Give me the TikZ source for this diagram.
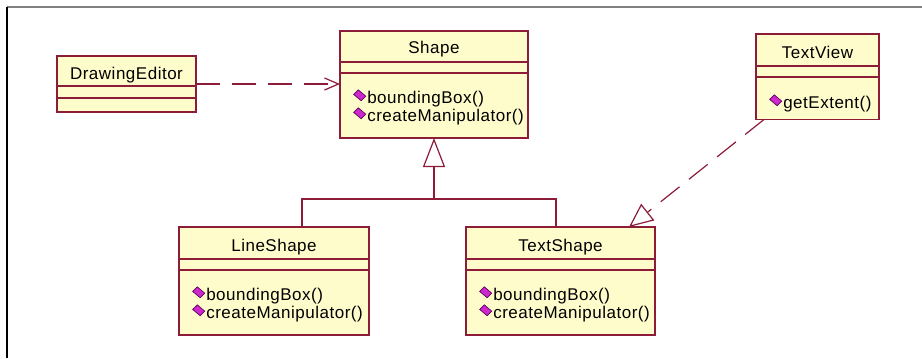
\documentclass[tikz,border=0pt]{standalone}
\usepackage{fontspec}
\setmainfont{Liberation Sans}[LetterSpace=3]
\usetikzlibrary{arrows.meta,calc,fit}
\definecolor{umlred}{RGB}{140,28,56}
\definecolor{umlfill}{RGB}{255,252,204}
\definecolor{umlmag}{RGB}{205,40,205}
\definecolor{umlmagd}{RGB}{90,0,90}
\definecolor{framegray}{RGB}{128,128,128}
\newcommand\UMLop[4]{%
  \filldraw[opicon, shift={(#2+20,#3-8)}, scale=1.15] (-5.5,-0.5) -- (-1.5,-4.5) -- (5,1) -- (1,5) -- cycle;
  \node[meth] (#1) at (#2+27,#3) {#4};
}
\begin{document}
\begin{tikzpicture}[x=0.75pt,y=-0.75pt,
  classbox/.style={draw=umlred, fill=umlfill, line width=1.1pt, inner sep=0pt, outer sep=0pt},
  sepline/.style={draw=umlred, line width=1.1pt},
  ttl/.style={anchor=base, font=\fontsize{12.75}{15}\selectfont, inner sep=0pt},
  meth/.style={anchor=base west, font=\fontsize{12.75}{15}\selectfont, inner sep=0pt},
  opicon/.style={fill=umlmag, draw=umlmagd, line width=0.5pt},
  conn/.style={draw=umlred, line width=0.9pt},
  dashconn/.style={conn, dash pattern=on 18pt off 9pt},
]
\useasboundingbox (0,0) rectangle (922,358);
\fill[white] (0,0) rectangle (922,358);
\draw[framegray, line width=1.5pt] (6.5,6.5) -- (922,6.5);
\draw[black, line width=1.5pt] (6.5,6.5) -- (6.5,358);

% DrawingEditor
\node[classbox, fit={(57,56) (196,112)}] (de) {};
\draw[sepline] ($(de.north west)+(0,30)$) -- ($(de.north east)+(0,30)$);
\draw[sepline] ($(de.north west)+(0,42)$) -- ($(de.north east)+(0,42)$);
\node[ttl] (deT) at ($(de.north)+(0,23)$) {DrawingEditor};

% Shape
\node[classbox, fit={(340,31) (528,138)}] (shape) {};
\draw[sepline] ($(shape.north west)+(0,31)$) -- ($(shape.north east)+(0,31)$);
\draw[sepline] ($(shape.north west)+(0,42)$) -- ($(shape.north east)+(0,42)$);
\node[ttl] (shapeT) at ($(shape.north)+(0,22)$) {Shape};
\UMLop{shapeM1}{340}{103}{boundingBox()}
\UMLop{shapeM2}{340}{121}{createManipulator()}

% TextView
\node[classbox, fit={(756,34) (879,119.5)}] (tv) {};
\draw[sepline] ($(tv.north west)+(0,32)$) -- ($(tv.north east)+(0,32)$);
\draw[sepline] ($(tv.north west)+(0,43)$) -- ($(tv.north east)+(0,43)$);
\node[ttl] (tvT) at ($(tv.north)+(0,24)$) {TextView};
\UMLop{tvM1}{756}{108}{getExtent()}

% LineShape
\node[classbox, fit={(179,227) (369,335)}] (ls) {};
\draw[sepline] ($(ls.north west)+(0,32)$) -- ($(ls.north east)+(0,32)$);
\draw[sepline] ($(ls.north west)+(0,43)$) -- ($(ls.north east)+(0,43)$);
\node[ttl] (lsT) at ($(ls.north)+(0,24)$) {LineShape};
\UMLop{lsM1}{179}{300}{boundingBox()}
\UMLop{lsM2}{179}{318}{createManipulator()}

% TextShape
\node[classbox, fit={(466,227) (655,335)}] (ts) {};
\draw[sepline] ($(ts.north west)+(0,32)$) -- ($(ts.north east)+(0,32)$);
\draw[sepline] ($(ts.north west)+(0,43)$) -- ($(ts.north east)+(0,43)$);
\node[ttl] (tsT) at ($(ts.north)+(0,24)$) {TextShape};
\UMLop{tsM1}{466}{300}{boundingBox()}
\UMLop{tsM2}{466}{318}{createManipulator()}

% dependency DrawingEditor -> Shape
\draw[dashconn, -{Straight Barb[length=10.5pt, width=9pt]}] (de.east) -- (de.east -| shape.west);

% generalization
\coordinate (busL) at (302,199);
\coordinate (busR) at (556,199);
\draw[conn] (ls.north -| busL) -- (busL) -- (busR) -- (ts.north -| busR);
\draw[conn, -{Triangle[open, length=21.75pt, width=16.5pt, fill=white]}] (shape.south |- busL) -- (shape.south);

% realization TextView -> TextShape
\coordinate (tvS) at ($(tv.south west)+(8,0)$);
\coordinate (tsE) at ($(ts.north east)+(-26,0)$);
\draw[dashconn, -{Triangle[open, length=18pt, width=15.75pt, fill=white]}] (tvS) -- (tsE);
\end{tikzpicture}
\end{document}
